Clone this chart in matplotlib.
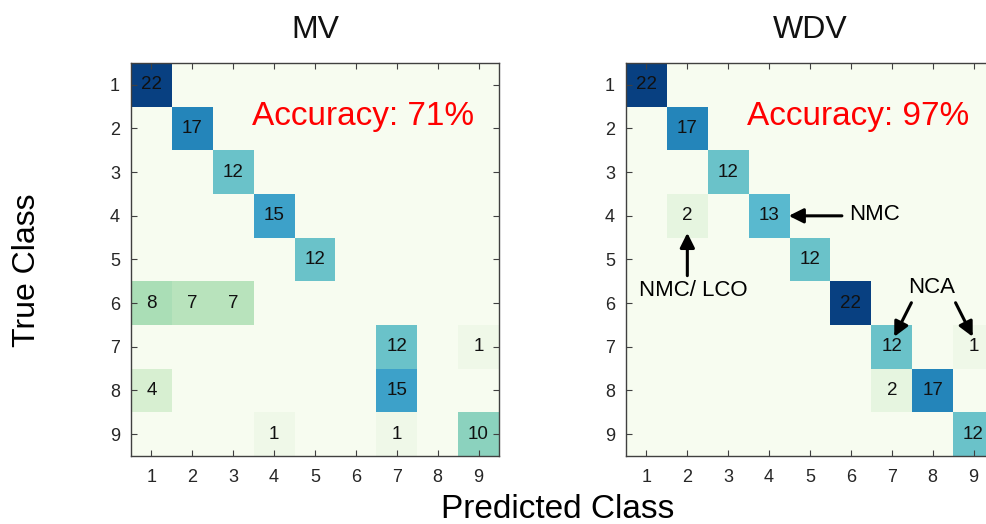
import matplotlib
matplotlib.use("Agg")
import matplotlib.pyplot as plt
import numpy as np

plt.rcParams["font.family"] = ["Liberation Sans", "DejaVu Sans"]

classes = [1, 2, 3, 4, 5, 6, 7, 8, 9]

# rows = true class, columns = predicted class
mv_counts = [
    [22, 0, 0, 0, 0, 0, 0, 0, 0],
    [0, 17, 0, 0, 0, 0, 0, 0, 0],
    [0, 0, 12, 0, 0, 0, 0, 0, 0],
    [0, 0, 0, 15, 0, 0, 0, 0, 0],
    [0, 0, 0, 0, 12, 0, 0, 0, 0],
    [8, 7, 7, 0, 0, 0, 0, 0, 0],
    [0, 0, 0, 0, 0, 0, 12, 0, 1],
    [4, 0, 0, 0, 0, 0, 15, 0, 0],
    [0, 0, 0, 1, 0, 0, 1, 0, 10],
]
wdv_counts = [
    [22, 0, 0, 0, 0, 0, 0, 0, 0],
    [0, 17, 0, 0, 0, 0, 0, 0, 0],
    [0, 0, 12, 0, 0, 0, 0, 0, 0],
    [0, 2, 0, 13, 0, 0, 0, 0, 0],
    [0, 0, 0, 0, 12, 0, 0, 0, 0],
    [0, 0, 0, 0, 0, 22, 0, 0, 0],
    [0, 0, 0, 0, 0, 0, 12, 0, 1],
    [0, 0, 0, 0, 0, 0, 2, 17, 0],
    [0, 0, 0, 0, 0, 0, 0, 0, 12],
]
titles = ["MV", "WDV"]
accuracies = ["Accuracy: 71%", "Accuracy: 97%"]

W, H = 987, 524
fig = plt.figure(figsize=(W / 100, H / 100), dpi=100)

frame_color = "#404040"


def draw_matrix(ax, counts, title, acc):
    m = np.array(counts)
    n = len(classes)
    ax.imshow(m, cmap="GnBu", vmin=0, vmax=22, aspect="auto",
              extent=(0.5, n + 0.5, n + 0.5, 0.5), interpolation="nearest")
    for i in range(n):
        for j in range(n):
            if m[i, j] > 0:
                ax.text(classes[j], classes[i], str(m[i, j]), ha="center",
                        va="center", fontsize=13.5, color="#111111")
    ax.set_xlim(0.5, n + 0.5)
    ax.set_ylim(n + 0.5, 0.5)
    ax.set_xticks(classes)
    ax.set_yticks(classes)
    ax.tick_params(direction="in", top=True, right=True, length=4,
                   width=0.8, color=frame_color, labelcolor="#262626",
                   labelsize=13)
    ax.tick_params(axis="x", pad=9)
    ax.tick_params(axis="y", pad=8)
    for s in ax.spines.values():
        s.set_color(frame_color)
        s.set_linewidth(1.0)
    ax.set_title(title, fontsize=23, pad=18, color="#111111")
    ax.text(3.46, 1.92, acc, color="#ff0000", fontsize=24,
            ha="left", va="baseline")


ax_mv = fig.add_axes([131 / W, 1 - 456 / H, 368 / W, 393 / H])
ax_wdv = fig.add_axes([626 / W, 1 - 456 / H, 368 / W, 393 / H])
draw_matrix(ax_mv, mv_counts, titles[0], accuracies[0])
draw_matrix(ax_wdv, wdv_counts, titles[1], accuracies[1])

# annotations on the WDV matrix
arrow = dict(arrowstyle="-|>", color="black", lw=2.2, mutation_scale=22,
             shrinkA=0, shrinkB=0)
ax_wdv.annotate("", xy=(4.48, 4.0), xytext=(5.78, 4.0), arrowprops=arrow)
ax_wdv.text(5.95, 3.96, "NMC", fontsize=16, ha="left", va="center")
ax_wdv.annotate("", xy=(2.0, 4.39), xytext=(2.0, 5.37), arrowprops=arrow)
ax_wdv.text(2.15, 5.72, "NMC/ LCO", fontsize=16, ha="center", va="center")
ax_wdv.text(7.97, 5.63, "NCA", fontsize=16, ha="center", va="center")
ax_wdv.annotate("", xy=(7.06, 6.77), xytext=(7.48, 5.99), arrowprops=arrow)
ax_wdv.annotate("", xy=(8.98, 6.77), xytext=(8.56, 5.99), arrowprops=arrow)

fig.text(27 / W, 1 - 270 / H, "True Class", rotation=90, fontsize=23,
         ha="center", va="center")
fig.text(558 / W, 1 - 518 / H, "Predicted Class", fontsize=24,
         ha="center", va="baseline")

fig.savefig("out.png", dpi=100)
